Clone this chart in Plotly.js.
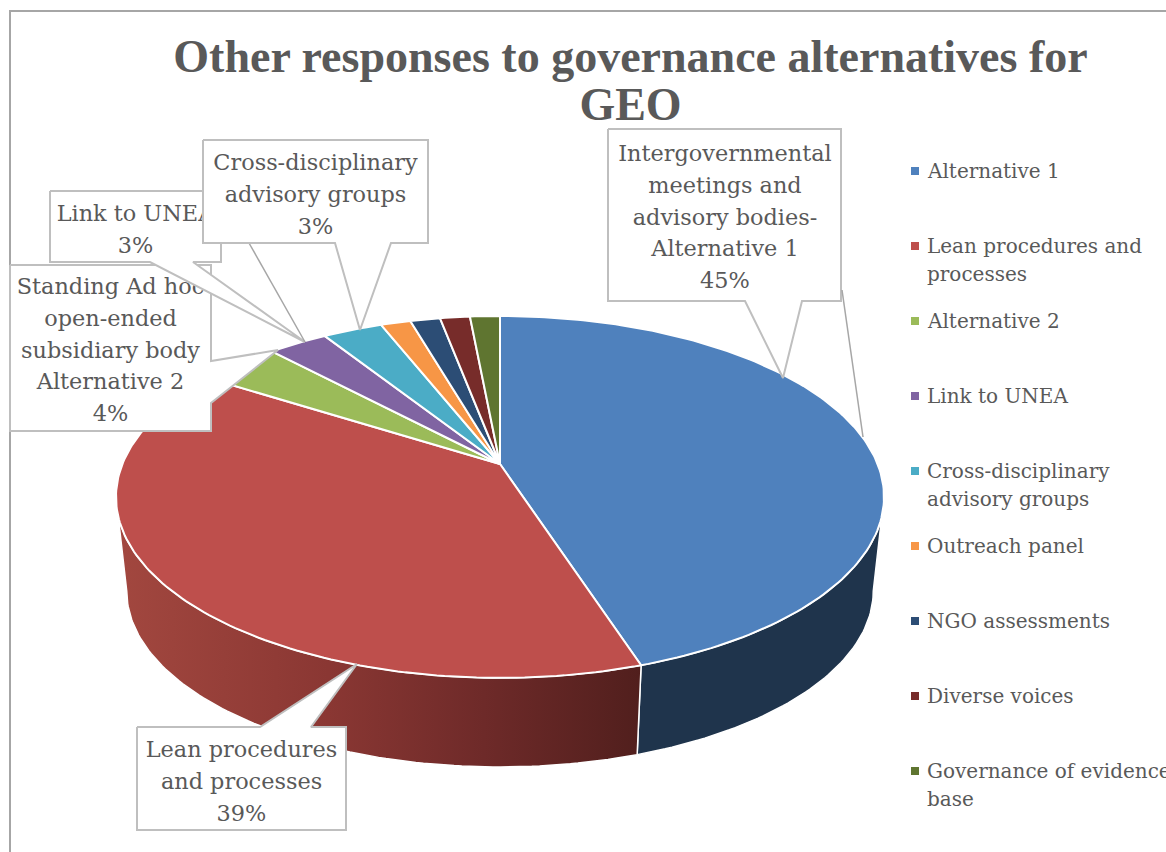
<!DOCTYPE html>
<html>
<head>
<meta charset="utf-8">
<script src="https://cdn.plot.ly/plotly-3.0.1.min.js"></script>
<style>html,body{margin:0;padding:0;background:#fff;overflow:hidden}#chart{width:1166px;height:852px}</style>
</head>
<body>
<div id="chart"></div>
<script>
// Survey responses, in percent
const categories = ['Alternative 1', 'Lean procedures and processes', 'Alternative 2', 'Link to UNEA',
  'Cross-disciplinary advisory groups', 'Outreach panel', 'NGO assessments', 'Diverse voices', 'Governance of evidence base'];
const shares = [45, 39, 4, 3, 3, 1.5, 1.5, 1.5, 1.5];
const sliceColors = ['#4F81BD', '#BE4F4C', '#9BBB59', '#8064A2', '#4BACC6', '#F79646', '#2C4D75', '#772C2A', '#5F7530'];
const legendLabels = ['Alternative 1', 'Lean procedures and<br>processes', 'Alternative 2', 'Link to UNEA',
  'Cross-disciplinary<br>advisory groups', 'Outreach panel', 'NGO assessments', 'Diverse voices', 'Governance of evidence<br>base'];

// Callout boxes, listed back to front
const calloutTexts = [
  'Intergovernmental<br>meetings and<br>advisory bodies-<br>Alternative 1<br>45%',
  'Lean procedures<br>and processes<br>39%',
  'Standing Ad hoc<br>open-ended<br>subsidiary body<br>Alternative 2<br>4%',
  'Link to UNEA<br>3%',
  'Cross-disciplinary<br>advisory groups<br>3%'
];
const calloutOutlines = [
  {x: [608, 841, 841, 802, 783, 745, 608, 608], y: [129, 129, 301, 301, 378, 301, 301, 129]},
  {x: [137, 260, 357, 311, 346, 346, 137, 137], y: [727, 727, 664, 727, 727, 830, 830, 727]},
  {x: [10, 211, 211, 278, 211, 211, 10, 10], y: [265, 265, 361, 350, 403, 431, 431, 265]},
  {x: [50, 221, 221, 193, 305, 150, 50, 50], y: [191, 191, 262, 262, 342, 262, 262, 191]},
  {x: [203, 428, 428, 391, 360, 335, 203, 203], y: [140, 140, 243, 243, 330, 243, 243, 140]}
];
const calloutCentres = {x: [725, 241.5, 110.5, 135.5, 315.5], y: [214, 781, 347, 230, 194]};
const leaderLines = [
  {x: [842, 863], y: [290, 437]},
  {x: [249, 305], y: [243, 342]}
];

const TEXT = '#595959', SERIF = '"DejaVu Serif", serif', EDGE = '#BFBFBF';
const apex = {x: 500, y: 464};
const top3d = {b: 377.6, a: 175, k: 0.182, scale: 1, drop: 0};
const rim3d = {b: 377.6, a: 175, k: 0.182, scale: 0.972, drop: 95};

// Perspective view of a point on the rim, angle measured clockwise from twelve o'clock
function rimPoint(deg, view) {
  const t = deg * Math.PI / 180, w = 1 + view.k * Math.cos(t);
  return {
    x: apex.x + view.scale * view.b * Math.sin(t) / w,
    y: apex.y + view.drop - view.scale * view.a * Math.cos(t) / w
  };
}
function arc(from, to, view) {
  const n = Math.max(2, Math.ceil(Math.abs(to - from))), pts = [];
  for (let i = 0; i <= n; i++) pts.push(rimPoint(from + (to - from) * i / n, view));
  return pts;
}

const total = shares.reduce((s, v) => s + v, 0);
const bounds = [0];
shares.forEach(v => bounds.push(bounds[bounds.length - 1] + v / total * 360));

const traces = [];

// Side wall of the disc: only the two big front slices show one
const silhouette = Math.acos(-top3d.k) * 180 / Math.PI;
function wall(from, to, style) {
  const upper = arc(from, to, top3d), lower = arc(to, from, rim3d), pts = upper.concat(lower, [upper[0]]);
  traces.push(Object.assign({
    type: 'scatter', mode: 'lines', x: pts.map(p => p.x), y: pts.map(p => p.y),
    fill: 'toself', line: {color: '#fff', width: 1.5}
  }, style));
}
wall(silhouette, bounds[1], {fillcolor: '#1F344C'});
wall(bounds[1], 360 - silhouette, {
  fillcolor: '#7a2f2e',
  fillgradient: {type: 'horizontal', start: 120, stop: 640,
    colorscale: [[0, '#A2473F'], [0.4, '#8A3733'], [0.7, '#6E2A29'], [1, '#511F1D']]}
});

// Top face, one wedge per category
shares.forEach((v, i) => {
  const pts = [apex].concat(arc(bounds[i], bounds[i + 1], top3d), [apex]);
  traces.push({
    type: 'scatter', mode: 'lines', name: categories[i], x: pts.map(p => p.x), y: pts.map(p => p.y),
    fill: 'toself', fillcolor: sliceColors[i], line: {color: '#fff', width: 2}
  });
});

// Callouts are traces so that each later box hides what lies behind it
calloutTexts.forEach((txt, i) => {
  traces.push({
    type: 'scatter', mode: 'lines', x: calloutOutlines[i].x, y: calloutOutlines[i].y,
    fill: 'toself', fillcolor: '#fff', line: {color: EDGE, width: 2}
  });
  traces.push({
    type: 'scatter', mode: 'text', x: [calloutCentres.x[i]], y: [calloutCentres.y[i]], text: [txt],
    textposition: 'middle center', textfont: {family: SERIF, size: 22.4, color: TEXT}
  });
  if (i === 0) traces.push({type: 'scatter', mode: 'lines', x: leaderLines[0].x, y: leaderLines[0].y, line: {color: '#A6A6A6', width: 1.5}});
  if (i === 3) traces.push({type: 'scatter', mode: 'lines', x: leaderLines[1].x, y: leaderLines[1].y, line: {color: '#A6A6A6', width: 1.5}});
});

// Legend keys stepped down the right-hand column
const legendX = 915, legendTop = 171, legendStep = 75;
const legendY = categories.map((_, i) => legendTop + i * legendStep);
traces.push({
  type: 'scatter', mode: 'markers', x: categories.map(() => legendX), y: legendY,
  marker: {symbol: 'square', size: 8, color: sliceColors, line: {width: 0}}
});

const layout = {
  width: 1166, height: 852, autosize: false, showlegend: false, hovermode: false,
  margin: {l: 0, r: 0, t: 0, b: 0}, paper_bgcolor: '#fff', plot_bgcolor: '#fff',
  xaxis: {range: [0, 1166], visible: false, fixedrange: true},
  yaxis: {range: [852, 0], visible: false, fixedrange: true},
  title: {
    text: 'Other responses to governance alternatives for<br>GEO',
    font: {family: '"Liberation Serif", serif', size: 46, color: TEXT, weight: 700},
    x: 630.5 / 1166, xanchor: 'center', xref: 'paper', y: 1 - 72 / 852, yanchor: 'top', yref: 'container'
  },
  shapes: [{type: 'rect', layer: 'below', x0: 10, x1: 1180, y0: 11, y1: 870, line: {color: '#A6A6A6', width: 2}}],
  annotations: legendLabels.map((t, i) => ({
    text: t, x: 926, y: legendY[i] - 13.5, xref: 'x', yref: 'y', xanchor: 'left', yanchor: 'top',
    align: 'left', showarrow: false, borderpad: 0, font: {family: SERIF, size: 20, color: TEXT}
  }))
};

// Set the leading of wrapped text explicitly, since it differs per text block
function setLeading(selector, px) {
  document.querySelectorAll(selector).forEach(el => {
    el.querySelectorAll('.line').forEach((ln, i) => { if (i > 0) ln.setAttribute('dy', (i * px) + 'px'); });
  });
}

Plotly.newPlot('chart', traces, layout, {staticPlot: true, displayModeBar: false}).then(() => {
  setLeading('.gtitle', 48);
  setLeading('.textpoint text', 31.6);
  setLeading('.annotation-text', 28);
});
</script>
</body>
</html>
